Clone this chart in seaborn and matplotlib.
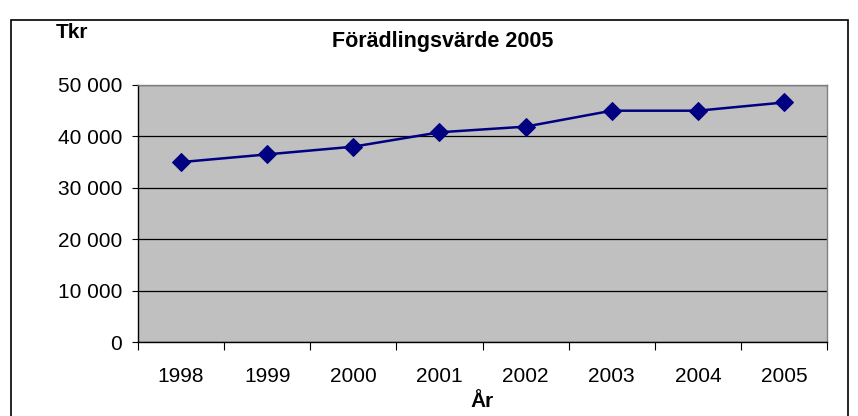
import numpy as np
import pandas as pd
import matplotlib
matplotlib.use("Agg")
import matplotlib.pyplot as plt
import seaborn as sns
from matplotlib.patches import Rectangle
from matplotlib.ticker import FuncFormatter, FixedLocator

# data
years = ["1998", "1999", "2000", "2001", "2002", "2003", "2004", "2005"]
values = [35000, 36500, 38000, 40800, 41900, 45000, 45000, 46600]

df = pd.DataFrame({"pos": np.arange(len(years)), "value": values})

sns.set_style("white")
plt.rcParams["font.family"] = ["Liberation Sans", "DejaVu Sans"]
plt.rcParams["text.color"] = "black"
plt.rcParams["xtick.color"] = "black"
plt.rcParams["ytick.color"] = "black"
plt.rcParams["axes.labelcolor"] = "black"

fig = plt.figure(figsize=(8.58, 4.16), dpi=100)
ax = fig.add_axes([138 / 858, 1 - 342 / 416, 689 / 858, 257 / 416])
ax.set_facecolor("#C0C0C0")

sns.lineplot(data=df, x="pos", y="value", ax=ax, color="#000080",
             marker="D", markersize=9, markeredgecolor="#000080",
             linewidth=1.8, zorder=3)

ax.set_xlim(-0.5, len(years) - 0.5)
ax.set_ylim(0, 50000)
ax.set_yticks(range(0, 50001, 10000))
ax.yaxis.set_major_formatter(FuncFormatter(lambda v, p: f"{int(v):,}".replace(",", " ")))
ax.grid(axis="y", color="black", linewidth=0.9)
ax.set_axisbelow(True)

# ticks between categories, labels centred
ax.xaxis.set_major_locator(FixedLocator(np.arange(-0.5, len(years), 1.0)))
ax.xaxis.set_major_formatter(FuncFormatter(lambda v, p: ""))
ax.xaxis.set_minor_locator(FixedLocator(np.arange(len(years))))
ax.set_xticklabels(years, minor=True)
ax.tick_params(axis="x", which="major", direction="out", length=6, width=0.8, bottom=True)
ax.tick_params(axis="x", which="minor", length=0, labelsize=15, pad=18)
ax.tick_params(axis="y", direction="out", length=4.5, width=0.8, left=True, labelsize=15, pad=7)

for s in ax.spines.values():
    s.set_color("#808080")
    s.set_linewidth(1)
ax.spines["left"].set_color("black")
ax.spines["bottom"].set_color("black")

ax.set_xlabel("År", fontsize=15, fontweight="bold", labelpad=4)
ax.set_ylabel("")

fig.text(443 / 858, 1 - 41 / 416, "Förädlingsvärde 2005", ha="center", va="center",
         fontsize=15.5, fontweight="bold")
fig.text(72 / 858, 1 - 33 / 416, "Tkr", ha="center", va="center",
         fontsize=15, fontweight="bold")

fig.patches.append(Rectangle((11 / 858, -0.01), 837 / 858, 1 - 20 / 416 + 0.01,
                             transform=fig.transFigure, fill=False,
                             edgecolor="black", linewidth=1.2))

fig.savefig("out.png", dpi=100)
